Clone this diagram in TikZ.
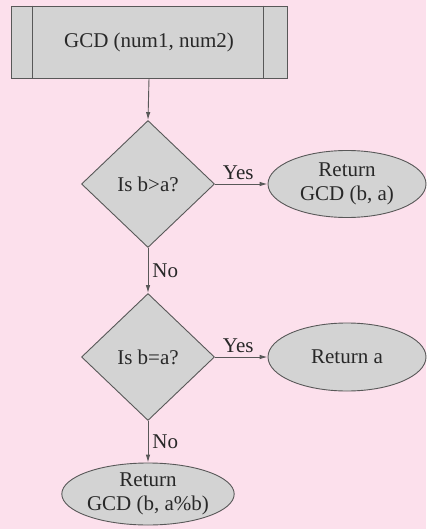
\documentclass[tikz,border=0pt]{standalone}
\usepackage{fontspec}
\setmainfont{Liberation Serif}
\usetikzlibrary{shapes.geometric,arrows.meta}
\definecolor{bgpink}{RGB}{252,224,236}
\definecolor{boxgray}{RGB}{211,211,211}
\definecolor{edgegray}{RGB}{88,88,88}
\definecolor{inkgray}{RGB}{40,40,40}
\tikzset{
  txt/.style={font=\fontsize{21}{24}\selectfont, text=inkgray, align=center},
  procbox/.style={txt, draw=edgegray, fill=boxgray, line width=0.9pt, rectangle,
    minimum width=276pt, minimum height=72pt, inner sep=0pt},
  decision/.style={txt, draw=edgegray, fill=boxgray, line width=0.9pt, diamond,
    minimum width=133pt, minimum height=127pt, inner sep=0pt},
  terminal/.style={txt, draw=edgegray, fill=boxgray, line width=0.9pt, ellipse,
    inner sep=0pt},
  flow/.style={draw=edgegray, line width=0.9pt, -{Latex[length=8pt,width=4.5pt]}},
  lbl/.style={txt, inner sep=4pt}
}
\begin{document}
\begin{tikzpicture}[x=1pt, y=-1pt]
  \fill[bgpink] (0,0) rectangle (426,529);
  \useasboundingbox (0,0) rectangle (426,529);

  % predefined process: GCD entry
  \node[procbox] (start) at (149,42) {GCD (num1, num2)};
  \draw[edgegray, line width=0.9pt]
    ([xshift=22pt]start.north west) -- ([xshift=22pt]start.south west)
    ([xshift=-24pt]start.north east) -- ([xshift=-24pt]start.south east);

  % decisions
  \node[decision] (cmpgt) at (148,184) {Is b>a?};
  \node[decision] (cmpeq) at (148,357) {Is b=a?};

  % terminals
  \node[terminal, minimum width=158pt, minimum height=67pt] (swap) at (347,184) {Return\\GCD (b, a)};
  \node[terminal, minimum width=158pt, minimum height=68pt] (reta) at (347,357) {Return a};
  \node[terminal, minimum width=170pt, minimum height=62pt] (recur) at (148,494) {Return\\GCD (b, a\%b)};

  % connectors
  \draw[flow] (cmpgt.east) -- node[lbl, above, xshift=-3pt] {Yes} (swap.west);
  \draw[flow] (cmpeq.east) -- node[lbl, above, xshift=-3pt] {Yes} (reta.west);
  \draw[flow] (start.south) -- (cmpgt.north);
  \draw[flow] (cmpgt.south) -- node[lbl, right] {No} (cmpeq.north);
  \draw[flow] (cmpeq.south) -- node[lbl, right] {No} (recur.north);
\end{tikzpicture}
\end{document}
